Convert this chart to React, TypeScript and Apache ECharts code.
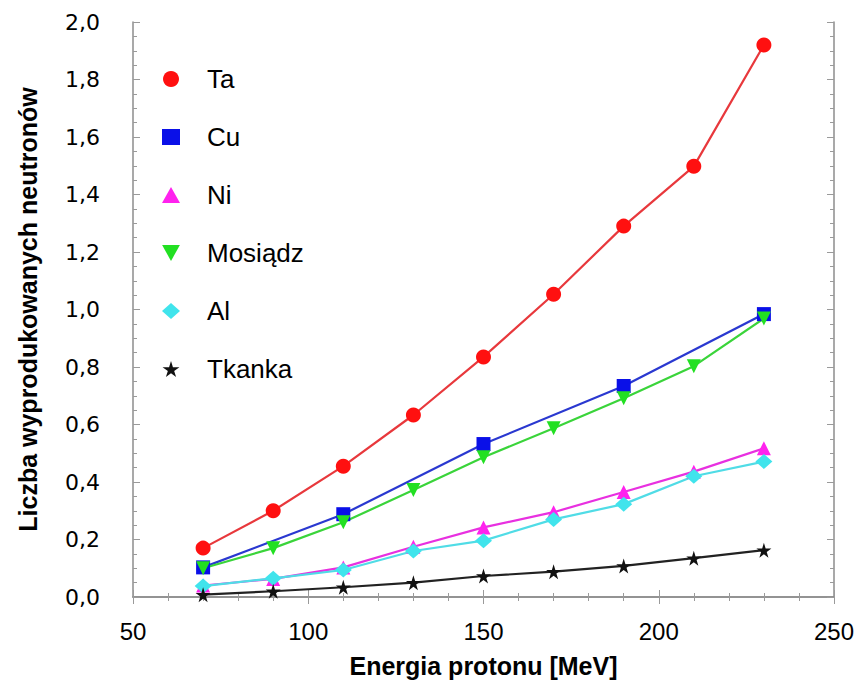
import React, { useEffect, useRef } from "react";
import * as echarts from "echarts";

// Proton energy [MeV] at which the neutron yield was computed
const energy = [70, 90, 110, 130, 150, 170, 190, 210, 230];
const energyCu = [70, 110, 150, 190, 230];

// Number of produced neutrons per proton
const ta = [0.17, 0.3, 0.455, 0.633, 0.835, 1.053, 1.29, 1.498, 1.92];
const cu = [0.103, 0.288, 0.532, 0.734, 0.984];
const ni = [0.04, 0.063, 0.103, 0.175, 0.242, 0.295, 0.365, 0.436, 0.517];
const mosiadz = [0.1, 0.17, 0.26, 0.372, 0.486, 0.587, 0.691, 0.803, 0.969];
const al = [0.038, 0.065, 0.094, 0.16, 0.196, 0.27, 0.323, 0.42, 0.471];
const tkanka = [0.008, 0.02, 0.034, 0.05, 0.073, 0.088, 0.108, 0.135, 0.163];

const seriesNames = ["Ta", "Cu", "Ni", "Mosiądz", "Al", "Tkanka"];

const STAR =
  "path://M50,0 L61,35 L98,35 L68,57 L79,91 L50,70 L21,91 L32,57 L2,35 L39,35 Z";
const DOWN_TRIANGLE = "path://M0,0 L10,0 L5,9 Z";

const pairs = (xs: number[], ys: number[]) => xs.map((x, i) => [x, ys[i]]);

export default function App() {
  const ref = useRef<HTMLDivElement>(null);

  useEffect(() => {
    document.body.style.margin = "0";
    if (!ref.current) return;
    const chart = echarts.init(ref.current, null, { renderer: "svg" });

    const tickColor = "#9a9a9a";
    const boxAxis = (extra: any) => ({
      type: "value",
      axisLine: { show: true, lineStyle: { color: "#8c8c8c", width: 1.5 } },
      axisTick: { show: true, inside: true, length: 7, lineStyle: { color: tickColor } },
      splitLine: { show: false },
      minorSplitLine: { show: false },
      ...extra,
    });

    const line = (
      name: string,
      xs: number[],
      ys: number[],
      symbol: string,
      symbolSize: any,
      marker: string,
      stroke: string
    ) => ({
      name,
      type: "line",
      data: pairs(xs, ys),
      symbol,
      symbolSize,
      showAllSymbol: true,
      itemStyle: { color: marker },
      lineStyle: { color: stroke, width: 2.2 },
      xAxisIndex: 0,
      yAxisIndex: 0,
    });

    const xMinor = { show: true, splitNumber: 5, length: 4, lineStyle: { color: tickColor } };
    const yMinor = { show: true, splitNumber: 4, length: 4, lineStyle: { color: tickColor } };

    chart.setOption({
      animation: false,
      backgroundColor: "#ffffff",
      grid: { left: 133, right: 27, top: 22, bottom: 87, containLabel: false },
      xAxis: [
        boxAxis({
          min: 50,
          max: 250,
          interval: 50,
          minorTick: xMinor,
          position: "bottom",
          name: "Energia protonu [MeV]",
          nameLocation: "middle",
          nameGap: 56,
          nameTextStyle: {
            fontFamily: "Liberation Sans",
            fontWeight: "bold",
            fontSize: 25,
            color: "#000",
          },
          axisLabel: {
            margin: 22,
            fontFamily: "Liberation Sans",
            fontSize: 24,
            color: "#000",
          },
        }),
        boxAxis({
          min: 50,
          max: 250,
          interval: 50,
          minorTick: xMinor,
          position: "top",
          axisLabel: { show: false },
        }),
      ],
      yAxis: [
        boxAxis({
          min: 0,
          max: 2,
          interval: 0.2,
          minorTick: yMinor,
          position: "left",
          name: "Liczba wyprodukowanych neutronów",
          nameLocation: "middle",
          nameGap: 93,
          nameTextStyle: {
            fontFamily: "Liberation Sans",
            fontWeight: "bold",
            fontSize: 25,
            color: "#000",
          },
          axisLabel: {
            margin: 33,
            fontFamily: "DejaVu Sans",
            fontSize: 22,
            color: "#000",
            formatter: (v: number) => v.toFixed(1).replace(".", ","),
          },
        }),
        boxAxis({
          min: 0,
          max: 2,
          interval: 0.2,
          minorTick: yMinor,
          position: "right",
          axisLabel: { show: false },
        }),
      ],
      legend: {
        orient: "vertical",
        left: 162,
        top: 66,
        padding: 0,
        itemWidth: 18,
        itemHeight: 16,
        itemGap: 32,
        textStyle: {
          fontFamily: "Liberation Sans",
          fontSize: 26,
          lineHeight: 26,
          color: "#000",
          padding: [0, 0, 0, 22],
        },
        data: [
          { name: "Ta", icon: "circle" },
          { name: "Cu", icon: "rect" },
          { name: "Ni", icon: "triangle" },
          { name: "Mosiądz", icon: DOWN_TRIANGLE },
          { name: "Al", icon: "diamond" },
          { name: "Tkanka", icon: STAR },
        ],
      },
      series: [
        line(seriesNames[0], energy, ta, "circle", 15, "#ff1010", "#e8383c"),
        line(seriesNames[1], energyCu, cu, "rect", 14, "#0a10e8", "#2a38d0"),
        line(seriesNames[2], energy, ni, "triangle", 14, "#ff22ee", "#e830e0"),
        line(seriesNames[3], energy, mosiadz, DOWN_TRIANGLE, 14, "#22e022", "#3ad43a"),
        line(seriesNames[4], energy, al, "diamond", [17, 15], "#40e4ec", "#50dce6"),
        line(seriesNames[5], energy, tkanka, STAR, 15, "#111111", "#222222"),
      ],
    });

    return () => chart.dispose();
  }, []);

  return <div ref={ref} style={{ width: 861, height: 684 }} />;
}
